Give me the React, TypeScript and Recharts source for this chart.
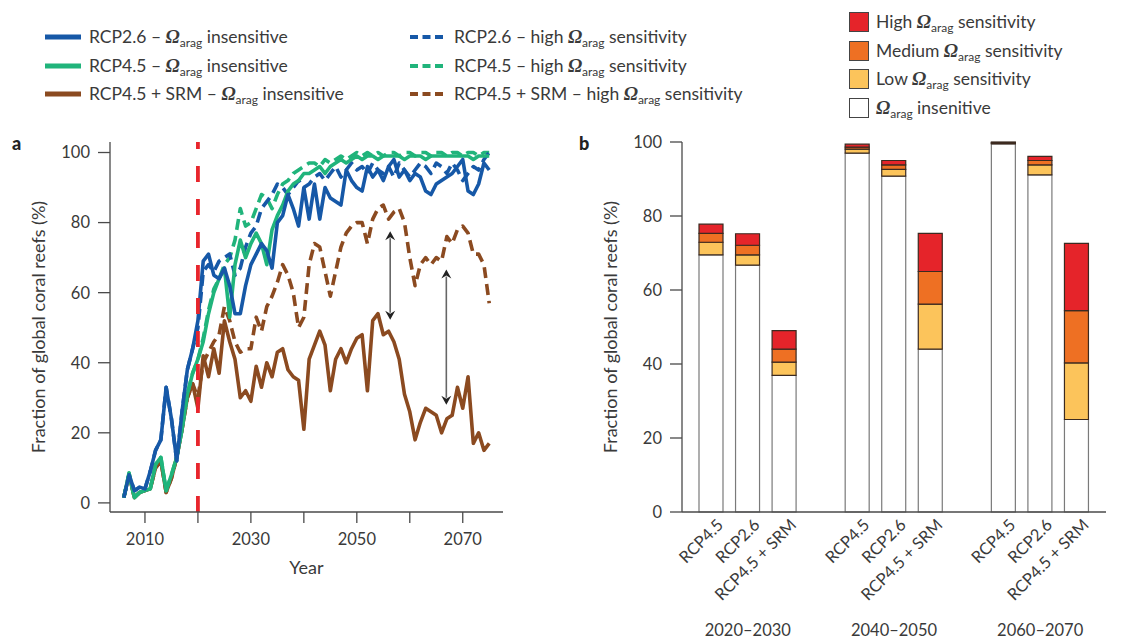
import { Bar, BarChart, Legend, Line, LineChart, ReferenceLine, XAxis, YAxis } from "recharts";

// ---- panel a: yearly fraction of reefs (%) ----
const years = [
  2006, 2007, 2008, 2009, 2010, 2011, 2012, 2013, 2014, 2015,
  2016, 2017, 2018, 2019, 2020, 2021, 2022, 2023, 2024, 2025,
  2026, 2027, 2028, 2029, 2030, 2031, 2032, 2033, 2034, 2035,
  2036, 2037, 2038, 2039, 2040, 2041, 2042, 2043, 2044, 2045,
  2046, 2047, 2048, 2049, 2050, 2051, 2052, 2053, 2054, 2055,
  2056, 2057, 2058, 2059, 2060, 2061, 2062, 2063, 2064, 2065,
  2066, 2067, 2068, 2069, 2070, 2071, 2072, 2073, 2074, 2075,
];

const rcp26Insensitive = [
  1.5, 8, 3.5, 4.5, 4, 9, 15, 18, 33, 24,
  12, 26, 38, 44, 52, 69, 71, 65, 64, 67,
  62, 54, 54, 62, 68, 71, 74, 72, 67, 80,
  82, 88, 84, 79, 90, 81, 91, 81, 90, 87,
  86, 85, 95, 92, 90, 89, 96, 93, 95, 92,
  96, 98, 93, 95, 92, 94, 93, 89, 88, 91,
  92, 93, 94, 96, 98, 89, 88, 91, 97, 95,
];
const rcp26High = [
  1.5, 8, 3.5, 4.5, 4, 9, 15, 18, 33, 24,
  12, 26, 38, 44, 50, 66, 68, 66, 69, 70,
  71, 65, 67, 73, 77, 79, 84, 86, 88, 91,
  90, 88, 90, 92, 90, 91, 93, 94, 92, 94,
  96, 93, 95, 97, 95, 96, 94, 97, 95, 94,
  96, 93, 97, 95, 93, 95, 97, 96, 94, 97,
  96, 94, 97, 95, 92, 94, 96, 95, 98, 100,
];
const rcp45Insensitive = [
  1.5, 8.5, 1.5, 3, 3.5, 4, 11, 13, 3.5, 8,
  13, 21, 31, 37, 41, 46, 54, 60, 64, 67,
  53, 68, 75, 70, 74, 77, 74, 68, 78, 82,
  85, 89, 91, 92, 94, 94, 95, 96, 94, 96,
  97, 98, 97, 98, 99, 98, 99, 99, 98, 99,
  99, 99, 99, 98, 99, 99, 99, 98, 99, 99,
  99, 99, 99, 99, 99, 99, 98, 99, 99, 99,
];
const rcp45High = [
  1.5, 8.5, 1.5, 3, 3.5, 4, 11, 13, 3.5, 8,
  13, 21, 31, 37, 41, 47, 55, 61, 64, 68,
  70, 75, 84, 79, 80, 84, 88, 87, 84, 88,
  91, 92, 94, 95, 96, 97, 97, 96, 98, 97,
  98, 99, 98, 99, 100, 99, 100, 99, 100, 99,
  100, 100, 99, 100, 100, 99, 100, 100, 99, 100,
  100, 99, 100, 100, 99, 100, 100, 99, 100, 100,
];
const srmInsensitive = [
  1.5, 8, 1.5, 3, 3.5, 4, 10, 12, 3, 7,
  13, 21, 30, 34, 27, 42, 36, 44, 37, 52,
  46, 41, 30, 32, 29, 39, 33, 40, 36, 43,
  44, 38, 36, 35, 21, 41, 45, 49, 45, 32,
  41, 44, 40, 44, 47, 48, 32, 52, 54, 48,
  49, 46, 41, 31, 26, 18, 23, 27, 26, 25,
  20, 24, 25, 33, 27, 36, 17, 20, 15, 17,
];
const srmHigh = [
  1.5, 8, 1.5, 3, 3.5, 4, 10, 12, 3, 7,
  13, 21, 30, 34, 30, 40, 43, 46, 48, 56,
  52, 46, 43, 44, 44, 53, 49, 56, 59, 63,
  68, 65, 60, 50, 53, 68, 74, 73, 66, 59,
  66, 73, 77, 79, 80, 80, 74, 81, 84, 85,
  81, 83, 84, 80, 70, 62, 68, 70, 68, 70,
  69, 76, 74, 78, 79, 77, 71, 71, 68, 57,
];

// double-headed arrows showing the gap between the SRM lines
const arrowYears = [2056.3, 2066.9];
const arrowTops = [77.5, 66.6];
const arrowBottoms = [52.3, 28];

const yearTicks = [2010, 2020, 2030, 2040, 2050, 2060, 2070];
const percentTicks = [0, 20, 40, 60, 80, 100];

const BLUE = "#1658a7";
const GREEN = "#20b47b";
const BROWN = "#8b4a20";
const TEXT = "#3a3a3a";
const AXIS = "#4a4a4a";
const FONT = "Lato, sans-serif";

const lineSeries = [
  { key: "srmHigh", color: BROWN, dashed: true },
  { key: "srmInsensitive", color: BROWN, dashed: false },
  { key: "rcp45High", color: GREEN, dashed: true },
  { key: "rcp26High", color: BLUE, dashed: true },
  { key: "rcp45Insensitive", color: GREEN, dashed: false },
  { key: "rcp26Insensitive", color: BLUE, dashed: false },
];

// ---- panel b: decade means, stacked by sensitivity ----
const barKeys = ["a1", "a2", "a3", "gap1", "b1", "b2", "b3", "gap2", "c1", "c2", "c3"];
const barScenarios = ["RCP4.5", "RCP2.6", "RCP4.5 + SRM", "", "RCP4.5", "RCP2.6", "RCP4.5 + SRM", "", "RCP4.5", "RCP2.6", "RCP4.5 + SRM"];
const periodLabels = ["", "2020–2030", "", "", "", "2040–2050", "", "", "", "2060–2070", ""];
const insensitive = [69.5, 66.7, 36.9, null, 97.0, 90.8, 44.0, null, 99.5, 91.1, 25.0];
const lowSens = [3.4, 2.8, 3.6, null, 1.1, 1.8, 12.2, null, 0.2, 2.7, 15.3];
const mediumSens = [2.4, 2.6, 3.5, null, 0.5, 1.2, 8.8, null, 0.1, 1.2, 14.1];
const highSens = [2.5, 3.1, 5.0, null, 0.8, 1.2, 10.3, null, 0.2, 1.1, 18.2];

const HIGH = "#e5242a";
const MEDIUM = "#ee7023";
const LOW = "#fcc45b";

const lineData = years.map((year, i) => ({
  year,
  rcp26Insensitive: rcp26Insensitive[i],
  rcp26High: rcp26High[i],
  rcp45Insensitive: rcp45Insensitive[i],
  rcp45High: rcp45High[i],
  srmInsensitive: srmInsensitive[i],
  srmHigh: srmHigh[i],
}));

const barData = barKeys.map((key, i) => ({
  key,
  insensitive: insensitive[i],
  low: lowSens[i],
  medium: mediumSens[i],
  high: highSens[i],
}));

const Omega = () => (
  <>
    <span style={{ fontFamily: '"Liberation Serif", serif', fontStyle: "italic", fontWeight: "bold", fontSize: 19 }}>Ω</span>
    <span style={{ fontSize: 12, position: "relative", top: 4 }}>arag</span>
  </>
);

const LineLegend = () => {
  const rows = [
    { color: BLUE, name: "RCP2.6" },
    { color: GREEN, name: "RCP4.5" },
    { color: BROWN, name: "RCP4.5 + SRM" },
  ];
  const entry = (color: string, dashed: boolean, children: React.ReactNode) => (
    <div style={{ display: "flex", alignItems: "center", height: 28.5 }}>
      <svg width={36} height={8} style={{ marginRight: 8 }}>
        <line x1={0} y1={4} x2={36} y2={4} stroke={color} strokeWidth={dashed ? 4 : 5} strokeDasharray={dashed ? "8 4.5" : undefined} />
      </svg>
      <span>{children}</span>
    </div>
  );
  return (
    <div style={{ display: "flex", fontFamily: FONT, fontSize: 17.5, color: TEXT, whiteSpace: "nowrap" }}>
      <div style={{ width: 365 }}>
        {rows.map((r) => entry(r.color, false, <>{r.name} – <Omega /> insensitive</>))}
      </div>
      <div>
        {rows.map((r) => entry(r.color, true, <>{r.name} – high <Omega /> sensitivity</>))}
      </div>
    </div>
  );
};

const BarLegend = () => {
  const rows = [
    { fill: HIGH, label: <>High <Omega /> sensitivity</> },
    { fill: MEDIUM, label: <>Medium <Omega /> sensitivity</> },
    { fill: LOW, label: <>Low <Omega /> sensitivity</> },
    { fill: "#ffffff", label: <><Omega /> insenitive</> },
  ];
  return (
    <div style={{ fontFamily: FONT, fontSize: 17.5, color: TEXT, whiteSpace: "nowrap" }}>
      {rows.map((r, i) => (
        <div key={i} style={{ display: "flex", alignItems: "center", height: 28.5 }}>
          <div style={{ width: 18, height: 18, background: r.fill, border: "1px solid #444", marginRight: 7 }} />
          <span>{r.label}</span>
        </div>
      ))}
    </div>
  );
};

const ArrowShape = (props: any) => {
  const { x1, y1, x2, y2 } = props;
  const top = Math.min(y1, y2);
  const bottom = Math.max(y1, y2);
  const head = 9;
  const half = 5;
  return (
    <g>
      <line x1={x1} y1={top + head - 2} x2={x2} y2={bottom - head + 2} stroke="#666" strokeWidth={1.6} />
      <polygon points={`${x1},${top} ${x1 - half},${top + head} ${x1},${top + head - 3} ${x1 + half},${top + head}`} fill="#222" />
      <polygon points={`${x1},${bottom} ${x1 - half},${bottom - head} ${x1},${bottom - head + 3} ${x1 + half},${bottom - head}`} fill="#222" />
    </g>
  );
};

const ScenarioTick = (props: any) => {
  const { x, y, payload } = props;
  const i = barKeys.indexOf(payload.value);
  const ax = x + 13;
  const ay = y + 6;
  return (
    <g>
      <text x={ax} y={ay} textAnchor="end" transform={`rotate(-45, ${ax}, ${ay})`} fontSize={16.5} fill={TEXT} fontFamily={FONT}>
        {barScenarios[i]}
      </text>
      {periodLabels[i] && (
        <text x={x} y={y + 116} textAnchor="middle" fontSize={16.5} fill={TEXT} fontFamily={FONT}>
          {periodLabels[i]}
        </text>
      )}
    </g>
  );
};

const tickStyle = { fontSize: 16.5, fill: TEXT, fontFamily: FONT };
const titleStyle = { fontSize: 18, fill: TEXT, fontFamily: FONT };

const TrendPanel = () => (
  <LineChart width={560} height={639} data={lineData} margin={{ top: 142, right: 57, bottom: 63, left: 0 }}>
    <XAxis
      dataKey="year"
      type="number"
      domain={[2003.4, 2077.6]}
      allowDataOverflow
      ticks={yearTicks}
      tickFormatter={(v: number) => (v % 20 === 10 ? String(v) : "")}
      tickSize={11}
      tickMargin={10}
      height={64}
      tick={tickStyle}
      stroke={AXIS}
      strokeWidth={1.3}
      label={{ value: "Year", position: "insideBottom", offset: 2, ...titleStyle }}
    />
    <XAxis xAxisId="top" orientation="top" dataKey="year" type="number" domain={[2003.4, 2077.6]} allowDataOverflow height={0} tick={false} tickLine={false} stroke={AXIS} strokeWidth={1.3} />
    <YAxis
      type="number"
      domain={[-2.6, 103]}
      allowDataOverflow
      ticks={percentTicks}
      tickSize={12}
      tickMargin={8}
      width={110}
      tick={tickStyle}
      stroke={AXIS}
      strokeWidth={1.3}
      label={{ value: "Fraction of global coral reefs (%)", angle: -90, position: "insideLeft", offset: 39, textAnchor: "middle", ...titleStyle }}
    />
    <YAxis yAxisId="right" orientation="right" type="number" domain={[-2.6, 103]} allowDataOverflow width={0} tick={false} tickLine={false} stroke={AXIS} strokeWidth={1.3} />
    <Legend
      verticalAlign="middle"
      align="center"
      layout="horizontal"
      wrapperStyle={{ top: 23, left: 45, width: 760 }}
      content={() => <LineLegend />}
    />
    {lineSeries.map((s) => (
      <Line
        key={s.key}
        type="linear"
        dataKey={s.key}
        stroke={s.color}
        strokeWidth={3.6}
        strokeDasharray={s.dashed ? "11 6" : undefined}
        strokeLinejoin="round"
        dot={false}
        isAnimationActive={false}
      />
    ))}
    <ReferenceLine x={2020} stroke="#e8252c" strokeWidth={3.8} strokeDasharray="16 17" />
    {arrowYears.map((yr, i) => (
      <ReferenceLine
        key={yr}
        segment={[{ x: yr, y: arrowTops[i] }, { x: yr, y: arrowBottoms[i] }]}
        shape={ArrowShape}
      />
    ))}
  </LineChart>
);

const DecadePanel = () => (
  <BarChart width={564} height={639} data={barData} margin={{ top: 142, right: 18, bottom: 0, left: 0 }} barSize={24}>
    <XAxis dataKey="key" height={127} tickLine={false} tickSize={6} tickMargin={2} interval={0} padding={{ left: 11, right: 11 }} stroke={AXIS} strokeWidth={1.3} tick={<ScenarioTick />} />
    <XAxis xAxisId="top" orientation="top" dataKey="key" height={0} tick={false} tickLine={false} stroke={AXIS} strokeWidth={1.3} />
    <YAxis
      type="number"
      domain={[0, 100]}
      ticks={percentTicks}
      tickSize={12}
      tickMargin={8}
      width={122}
      tick={tickStyle}
      stroke={AXIS}
      strokeWidth={1.3}
      label={{ value: "Fraction of global coral reefs (%)", angle: -90, position: "insideLeft", offset: 51, textAnchor: "middle", ...titleStyle }}
    />
    <Legend
      verticalAlign="middle"
      align="center"
      layout="horizontal"
      wrapperStyle={{ top: 8, left: 289, width: 270 }}
      content={() => <BarLegend />}
    />
    <Bar dataKey="insensitive" stackId="s" fill="#ffffff" stroke="#7a7a7a" strokeWidth={1.2} isAnimationActive={false} />
    <Bar dataKey="low" stackId="s" fill={LOW} stroke="#3b2a20" strokeWidth={1.2} isAnimationActive={false} />
    <Bar dataKey="medium" stackId="s" fill={MEDIUM} stroke="#3b2a20" strokeWidth={1.2} isAnimationActive={false} />
    <Bar dataKey="high" stackId="s" fill={HIGH} stroke="#3b2a20" strokeWidth={1.2} isAnimationActive={false} />
  </BarChart>
);

const panelLabel = { position: "absolute" as const, fontFamily: FONT, fontWeight: 900, fontSize: 18, color: "#222", lineHeight: 1 };

export default function App() {
  return (
    <div style={{ position: "absolute", left: 0, top: 0, width: 1124, height: 639, background: "#fff", overflow: "hidden" }}>
      <div style={{ position: "absolute", left: 0, top: 0 }}>
        <TrendPanel />
      </div>
      <div style={{ position: "absolute", left: 560, top: 0 }}>
        <DecadePanel />
      </div>
      <div style={{ ...panelLabel, left: 12, top: 134 }}>a</div>
      <div style={{ ...panelLabel, left: 579, top: 134 }}>b</div>
    </div>
  );
}
